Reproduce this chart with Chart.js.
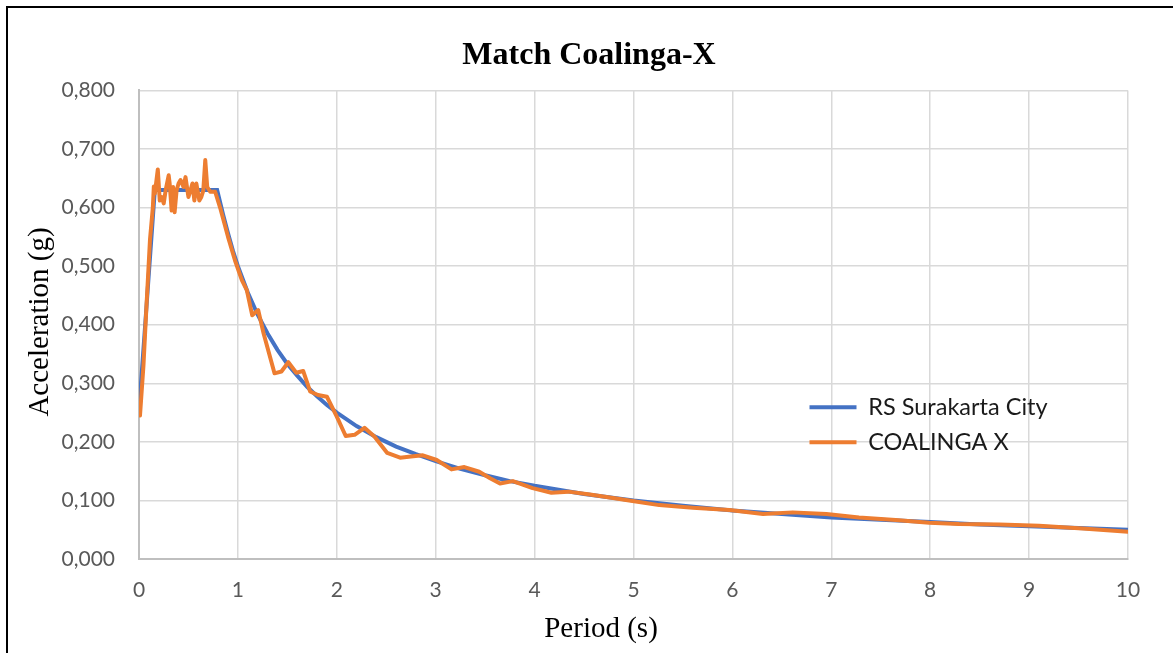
<!DOCTYPE html>
<html>
<head>
<meta charset="utf-8">
<title>Match Coalinga-X</title>
<script src="https://cdn.jsdelivr.net/npm/chart.js@4.4.1/dist/chart.umd.min.js"></script>
<style>
  html, body { margin: 0; padding: 0; background: #ffffff; overflow: hidden; }
  #wrap { position: relative; width: 1173px; height: 653px; }
  #frame {
    position: absolute; left: 6px; top: 6px; width: 1180px; height: 700px;
    border-left: 2px solid #000; border-top: 2px solid #000; box-sizing: border-box;
  }
  #chart { position: absolute; left: 0; top: 0; }
</style>
</head>
<body>
<div id="wrap">
  <div id="frame"></div>
  <canvas id="chart" width="1173" height="653"></canvas>
</div>
<script>
// ===================== Data =====================
const seriesNames = ['RS Surakarta City', 'COALINGA X'];

// design spectrum
const periodsRS = [0, 0.16, 0.79, 0.85, 0.9, 0.95, 1.0, 1.1, 1.2, 1.3, 1.4, 1.5, 1.6, 1.7, 1.8, 1.9, 2.0,
  2.2, 2.4, 2.6, 2.8, 3.0, 3.25, 3.5, 3.75, 4.0, 4.5, 5, 5.5, 6, 6.5, 7, 7.5, 8, 8.5, 9, 9.5, 10];
const accRS = [0.252, 0.630, 0.630, 0.588, 0.556, 0.526, 0.500, 0.455, 0.417, 0.385, 0.357, 0.333, 0.313, 0.294, 0.278, 0.263, 0.250,
  0.227, 0.208, 0.192, 0.179, 0.167, 0.154, 0.143, 0.133, 0.125, 0.111, 0.100, 0.091, 0.083, 0.077, 0.071, 0.067, 0.063, 0.059, 0.056, 0.053, 0.050];

// matched record
const periodsCo = [0, 0.01, 0.045, 0.078, 0.111, 0.14, 0.15, 0.16, 0.19, 0.21, 0.23, 0.25, 0.27, 0.30, 0.31, 0.33,
  0.345, 0.36, 0.38, 0.40, 0.42, 0.45, 0.47, 0.50, 0.52, 0.54, 0.56, 0.58, 0.61, 0.63, 0.65, 0.67, 0.69, 0.72,
  0.77, 0.82, 0.90, 0.97, 1.04, 1.09, 1.145, 1.205, 1.26, 1.37, 1.44, 1.51, 1.59, 1.66, 1.73, 1.81, 1.90, 2.00,
  2.09, 2.18, 2.28, 2.38, 2.51, 2.64, 2.75, 2.87, 3.01, 3.16, 3.29, 3.44, 3.55, 3.65, 3.78, 3.98, 4.17, 4.34,
  4.56, 4.76, 4.99, 5.26, 5.60, 5.97, 6.31, 6.61, 6.95, 7.28, 7.65, 7.99, 8.29, 8.70, 9.10, 9.54, 10.0];
const accCo = [0.260, 0.245, 0.330, 0.440, 0.545, 0.600, 0.636, 0.624, 0.665, 0.612, 0.618, 0.607, 0.630, 0.655, 0.641, 0.595,
  0.635, 0.592, 0.629, 0.641, 0.647, 0.635, 0.652, 0.618, 0.629, 0.641, 0.612, 0.641, 0.612, 0.618, 0.629, 0.681, 0.635, 0.627,
  0.627, 0.600, 0.550, 0.510, 0.476, 0.459, 0.416, 0.425, 0.385, 0.317, 0.320, 0.336, 0.318, 0.321, 0.286, 0.280, 0.277, 0.243,
  0.210, 0.212, 0.224, 0.209, 0.181, 0.173, 0.175, 0.177, 0.169, 0.153, 0.157, 0.149, 0.138, 0.129, 0.133, 0.121, 0.113, 0.115,
  0.110, 0.105, 0.099, 0.092, 0.0875, 0.0836, 0.077, 0.0796, 0.077, 0.071, 0.0665, 0.062, 0.0597, 0.059, 0.0568, 0.052, 0.0466];

const yTickLabels = ['0,000', '0,100', '0,200', '0,300', '0,400', '0,500', '0,600', '0,700', '0,800'];
const xTickLabels = ['0', '1', '2', '3', '4', '5', '6', '7', '8', '9', '10'];
const xAxisTitle = 'Period (s)';
const yAxisTitle = 'Acceleration (g)';

// ===================== Chart =====================
(function () {
  const canvas = document.getElementById('chart');
  if (!canvas || typeof Chart === 'undefined') return;

  const serif = '"Liberation Serif", "Times New Roman", serif';
  const sans = 'Lato, "Open Sans", sans-serif';

  function toPoints(xs, ys) {
    return xs.map(function (x, i) { return { x: x, y: ys[i] }; });
  }

  // legend inside the plot on the right, title a bit right of centre (as in Excel)
  const placeBoxes = {
    id: 'placeBoxes',
    beforeDraw: function (chart) {
      const lg = chart.legend;
      if (lg) {
        const w = lg.width, h = lg.height;
        lg.left = 798; lg.top = 384;
        lg.right = lg.left + w; lg.bottom = lg.top + h;
      }
      const tb = chart.titleBlock;
      if (tb) { tb.left = 50; tb.right = chart.chartArea.right; }
    }
  };

  // axis titles, positioned like the original
  const axisTitles = {
    id: 'axisTitles',
    afterDraw: function (chart) {
      const ctx = chart.ctx;
      ctx.save();
      ctx.fillStyle = '#000000';
      ctx.font = '29px ' + serif;
      ctx.textAlign = 'center';
      ctx.textBaseline = 'middle';
      ctx.fillText(xAxisTitle, 601, 629);
      ctx.translate(40, 322);
      ctx.rotate(-Math.PI / 2);
      ctx.fillText(yAxisTitle, 0, 0);
      ctx.restore();
    }
  };

  new Chart(canvas, {
    type: 'line',
    data: {
      datasets: [{
        label: seriesNames[0],
        data: toPoints(periodsRS, accRS),
        borderColor: '#4472C4',
        backgroundColor: '#4472C4',
        borderWidth: 4,
        pointRadius: 0,
        tension: 0,
        order: 2
      }, {
        label: seriesNames[1],
        data: toPoints(periodsCo, accCo),
        borderColor: '#ED7D31',
        backgroundColor: '#ED7D31',
        borderWidth: 4,
        borderJoinStyle: 'round',
        borderCapStyle: 'round',
        pointRadius: 0,
        tension: 0,
        order: 1
      }]
    },
    options: {
      responsive: false,
      animation: false,
      events: [],
      layout: { padding: { left: 0, right: 45, top: 0, bottom: 0 } },
      plugins: {
        title: {
          display: true,
          text: 'Match Coalinga-X',
          color: '#000000',
          font: { family: serif, size: 32, weight: 'bold' },
          padding: { top: 37, bottom: 15 }
        },
        legend: {
          position: 'chartArea',
          align: 'start',
          labels: {
            boxWidth: 47,
            boxHeight: 4,
            padding: 11.5,
            color: '#1a1a1a',
            font: { family: sans, size: 23.5 },
            sort: function (a, b) { return a.datasetIndex - b.datasetIndex; },
            generateLabels: function (chart) {
              const items = Chart.defaults.plugins.legend.labels.generateLabels(chart);
              items.forEach(function (it) { it.lineWidth = 0; it.fillStyle = it.strokeStyle; });
              return items;
            }
          }
        },
        tooltip: { enabled: false }
      },
      scales: {
        x: {
          type: 'linear',
          min: 0,
          max: 10,
          afterFit: function (scale) { scale.height = 94; },
          grid: { color: '#d9d9d9', lineWidth: 1.5, drawTicks: false },
          border: { color: '#bfbfbf', width: 2 },
          ticks: {
            stepSize: 1,
            padding: 19,
            color: '#595959',
            font: { family: sans, size: 21 },
            maxRotation: 0,
            callback: function (value) { return xTickLabels[Math.round(value)]; }
          }
        },
        y: {
          min: 0,
          max: 0.8,
          afterFit: function (scale) { scale.width = 139; },
          grid: { color: '#d9d9d9', lineWidth: 1.5, drawTicks: false },
          border: { color: '#bfbfbf', width: 2 },
          ticks: {
            stepSize: 0.1,
            padding: 24,
            color: '#595959',
            font: { family: sans, size: 21 },
            callback: function (value) { return yTickLabels[Math.round(value * 10)]; }
          }
        }
      }
    },
    plugins: [placeBoxes, axisTitles]
  });
})();
</script>
</body>
</html>
